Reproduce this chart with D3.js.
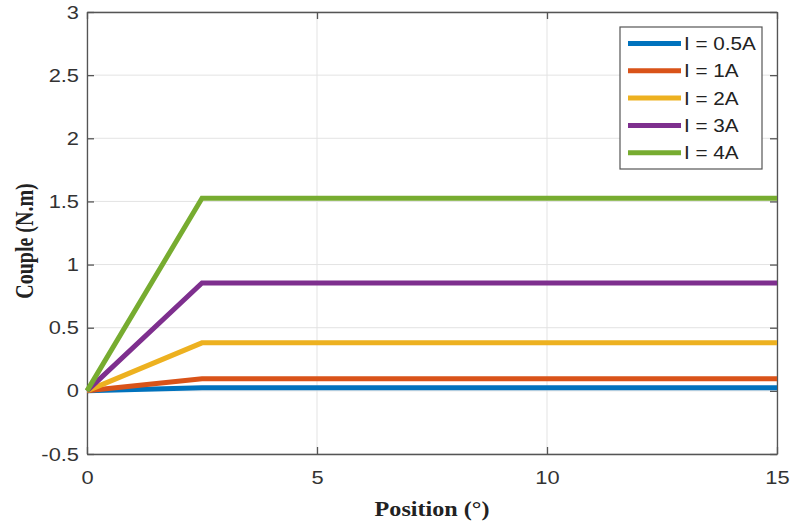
<!DOCTYPE html>
<html>
<head>
<meta charset="utf-8">
<script src="https://cdn.jsdelivr.net/npm/d3@7"></script>
<style>
  body { margin: 0; background: #fff; }
  svg { display: block; }
</style>
</head>
<body>
<div id="chart"></div>
<script>
// positions (degrees) where each curve is sampled
var positions = [0, 2.5, 15];

var seriesNames = ["I = 0.5A", "I = 1A", "I = 2A", "I = 3A", "I = 4A"];
var torque05 = [0, 0.025, 0.025];
var torque1 = [0, 0.095, 0.095];
var torque2 = [0, 0.38, 0.38];
var torque3 = [0, 0.855, 0.855];
var torque4 = [0, 1.525, 1.525];
var colors = ["#0072BD", "#D95319", "#EDB120", "#7E2F8E", "#77AC30"];

var xTicks = [0, 5, 10, 15];
var yTicks = [-0.5, 0, 0.5, 1, 1.5, 2, 2.5, 3];

var allSeries = [torque05, torque1, torque2, torque3, torque4];

var W = 790, H = 524;
var margin = {top: 12, right: 13, bottom: 70, left: 87},
    width = W - margin.left - margin.right,
    height = H - margin.top - margin.bottom;

var svg = d3.select("#chart")
  .append("svg")
  .attr("width", W)
  .attr("height", H)
  .append("g")
  .attr("transform", "translate(" + margin.left + "," + margin.top + ")");

var x = d3.scaleLinear().domain([0, 15]).range([0, width]);
var y = d3.scaleLinear().domain([-0.5, 3]).range([height, 0]);

// grid
svg.append("g")
  .selectAll("line")
  .data(xTicks)
  .enter().append("line")
  .attr("x1", d => x(d)).attr("x2", d => x(d))
  .attr("y1", 0).attr("y2", height)
  .attr("stroke", "#e3e3e3").attr("stroke-width", 1);
svg.append("g")
  .selectAll("line")
  .data(yTicks)
  .enter().append("line")
  .attr("x1", 0).attr("x2", width)
  .attr("y1", d => y(d)).attr("y2", d => y(d))
  .attr("stroke", "#e3e3e3").attr("stroke-width", 1);

var tickFont = "'Liberation Sans', Arial, Helvetica, sans-serif";
var stretch = 1.15; // the reference text is a bit wide

// axes (ticks pointing inward, like MATLAB)
var xAxis = svg.append("g")
  .attr("transform", "translate(0," + height + ")")
  .call(d3.axisBottom(x).tickValues(xTicks).tickSizeInner(-7).tickSizeOuter(0).tickPadding(17));
var yAxis = svg.append("g")
  .call(d3.axisLeft(y).tickValues(yTicks).tickSizeInner(-7).tickSizeOuter(0).tickPadding(8)
    .tickFormat(d => String(d)));
svg.append("g")
  .call(d3.axisTop(x).tickValues(xTicks).tickSizeInner(-7).tickSizeOuter(0).tickFormat(""));
svg.append("g")
  .attr("transform", "translate(" + width + ",0)")
  .call(d3.axisRight(y).tickValues(yTicks).tickSizeInner(-7).tickSizeOuter(0).tickFormat(""));

svg.selectAll(".domain").attr("stroke", "#555").attr("stroke-width", 1.3);
svg.selectAll(".tick line").attr("stroke", "#555").attr("stroke-width", 1.3);
svg.selectAll(".tick text")
  .attr("fill", "#333")
  .style("font-family", tickFont)
  .style("font-size", "19px");
xAxis.selectAll(".tick text")
  .attr("transform", "scale(" + stretch + ",1)");
yAxis.selectAll(".tick text")
  .attr("x", -8 / stretch)
  .attr("transform", "scale(" + stretch + ",1)");

// lines
var line = d3.line()
  .x((d, i) => x(positions[i]))
  .y(d => y(d));

svg.append("g")
  .selectAll("path")
  .data(allSeries)
  .enter().append("path")
  .attr("d", line)
  .attr("fill", "none")
  .attr("stroke", (d, i) => colors[i])
  .attr("stroke-width", 5)
  .attr("stroke-linejoin", "miter");

// axis labels
svg.append("text")
  .attr("transform", "translate(" + (width / 2) + "," + (height + 62) + ") scale(" + stretch + ",1)")
  .attr("text-anchor", "middle")
  .style("font-family", "'Liberation Serif', 'Times New Roman', serif")
  .style("font-weight", "bold")
  .style("font-size", "21px")
  .attr("fill", "#222")
  .text("Position (°)");

svg.append("text")
  .attr("transform", "translate(" + (-54) + "," + (height / 2 + 8) + ") rotate(-90) scale(1," + (stretch + 0.1) + ")")
  .attr("text-anchor", "middle")
  .style("font-family", "'Liberation Serif', 'Times New Roman', serif")
  .style("font-weight", "bold")
  .style("font-size", "20px")
  .attr("fill", "#222")
  .text("Couple (N.m)");

// legend
var lx = 620 - margin.left, ly = 27 - margin.top;
var legend = svg.append("g").attr("transform", "translate(" + lx + "," + ly + ")");
legend.append("rect")
  .attr("width", 142).attr("height", 142)
  .attr("fill", "#fff")
  .attr("stroke", "#555").attr("stroke-width", 1.2);

var rowH = 27.3;
var rows = legend.selectAll("g.row")
  .data(seriesNames)
  .enter().append("g")
  .attr("class", "row")
  .attr("transform", (d, i) => "translate(0," + (16.5 + i * rowH) + ")");
rows.append("line")
  .attr("x1", 8).attr("x2", 61)
  .attr("stroke", (d, i) => colors[i])
  .attr("stroke-width", 5);
rows.append("text")
  .attr("transform", "translate(64,0) scale(" + stretch + ",1)")
  .attr("dy", "0.36em")
  .style("font-family", tickFont)
  .style("font-size", "18px")
  .attr("fill", "#222")
  .text(d => d);
</script>
</body>
</html>
